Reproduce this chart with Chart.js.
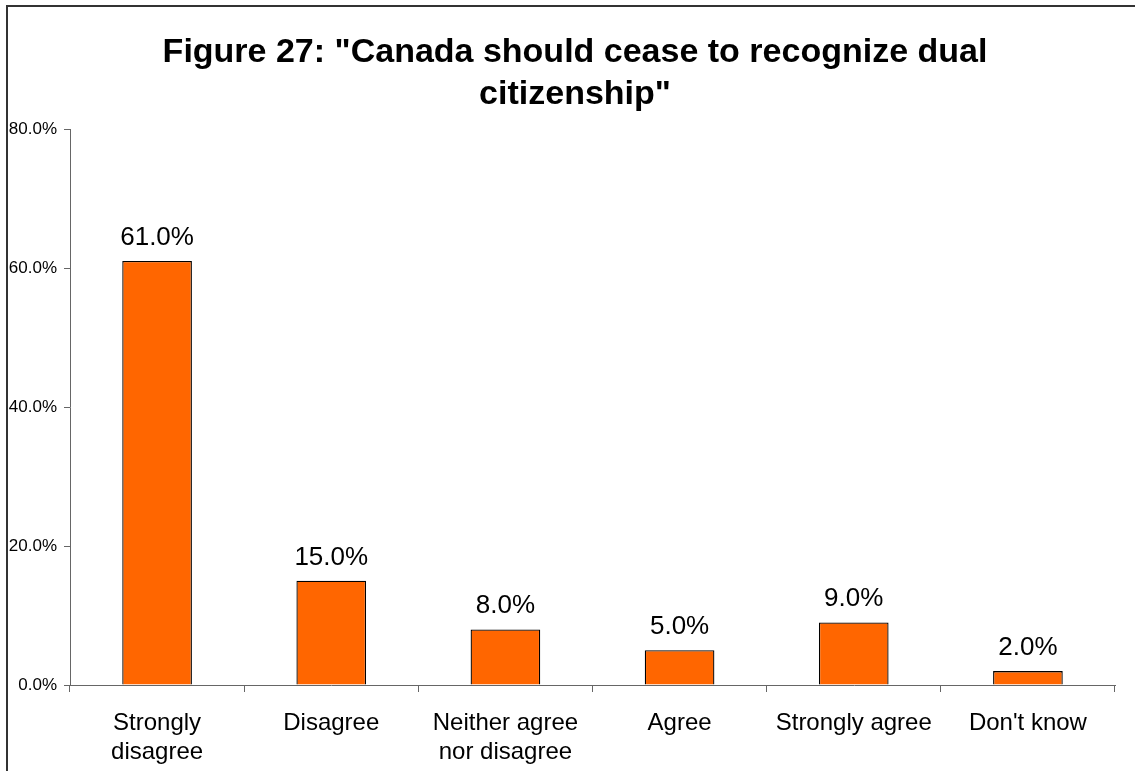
<!DOCTYPE html>
<html lang="en">

<head>
  <meta charset="UTF-8">
  <meta name="viewport" content="width=device-width, initial-scale=1.0">
  <title>Figure 27</title>

  <script src="https://cdn.jsdelivr.net/npm/chart.js"></script>

  <style>
    body {
      margin: 0;
      overflow: hidden;
      background: #fff;
    }

    .moldura {
      position: absolute;
      left: 6px;
      top: 5px;
      width: 1300px;
      height: 900px;
      border: 2px solid #333;
      pointer-events: none;
    }

    #barChart {
      position: absolute;
      left: 0;
      top: 0;
    }
  </style>
</head>

<body>
  <canvas id="barChart" width="1135" height="771"></canvas>
  <div class="moldura"></div>
</body>

</html>

<script>
  // Dados do gráfico
  const titulo = ['Figure 27: "Canada should cease to recognize dual', 'citizenship"'];
  const categorias = [
    ['Strongly', 'disagree'],
    'Disagree',
    ['Neither agree', 'nor disagree'],
    'Agree',
    'Strongly agree',
    "Don't know"
  ];
  const valores = [61.0, 15.0, 8.0, 5.0, 9.0, 2.0];
  const ticksY = [0, 20, 40, 60, 80];

  const corBarra = '#FF6600';
  const corEixo = '#666666';
  const fonte = 'Arial, "Liberation Sans", sans-serif';

  // Escreve o valor em cima de cada barra
  const rotuloValores = {
    id: 'rotuloValores',
    afterDatasetsDraw(chart) {
      const ctx = chart.ctx;
      const meta = chart.getDatasetMeta(0);
      ctx.save();
      ctx.font = '26px ' + fonte;
      ctx.fillStyle = '#000';
      ctx.textAlign = 'center';
      ctx.textBaseline = 'alphabetic';
      meta.data.forEach(function (barra, i) {
        ctx.fillText(valores[i].toFixed(1) + '%', barra.x, barra.y - 16);
      });
      ctx.restore();
    }
  };

  // Centraliza o título um pouco mais à direita (entre x=35 e a borda direita do gráfico)
  const ajusteTitulo = {
    id: 'ajusteTitulo',
    afterLayout(chart) {
      if (chart.titleBlock) {
        chart.titleBlock.left = 35;
      }
    }
  };

  const config = {
    type: 'bar',
    data: {
      labels: categorias,
      datasets: [
        {
          data: valores,
          backgroundColor: corBarra,
          borderColor: '#000',
          borderWidth: 1.3,
          barPercentage: 0.4,
          categoryPercentage: 1.0
        }
      ]
    },
    options: {
      responsive: false,
      animation: false,
      layout: {
        padding: { left: 0, right: 20, top: 0, bottom: 0 }
      },
      plugins: {
        legend: { display: false },
        tooltip: { enabled: false },
        title: {
          display: true,
          text: titulo,
          color: '#000',
          font: { family: fonte, size: 34, weight: 'bold', lineHeight: 1.25 },
          padding: { top: 31, bottom: 13 }
        }
      },
      scales: {
        x: {
          afterFit: function (escala) { escala.height = 86; },
          grid: {
            offset: true,
            drawOnChartArea: false,
            drawTicks: true,
            tickLength: 7,
            color: corEixo
          },
          border: { display: true, color: corEixo, width: 1 },
          ticks: {
            color: '#000',
            padding: 17,
            maxRotation: 0,
            autoSkip: false,
            font: { family: fonte, size: 24, lineHeight: 1.2 }
          }
        },
        y: {
          min: 0,
          max: 80,
          afterFit: function (escala) { escala.width = 70; },
          afterBuildTicks: function (escala) {
            escala.ticks = ticksY.map(function (v) { return { value: v }; });
          },
          grid: {
            drawOnChartArea: false,
            drawTicks: true,
            tickLength: 6,
            color: corEixo
          },
          border: { display: true, color: corEixo, width: 1 },
          ticks: {
            color: '#000',
            padding: 7,
            font: { family: fonte, size: 17 },
            callback: function (v) { return v.toFixed(1) + '%'; }
          }
        }
      }
    },
    plugins: [rotuloValores, ajusteTitulo]
  };

  new Chart(document.getElementById('barChart'), config);
</script>
